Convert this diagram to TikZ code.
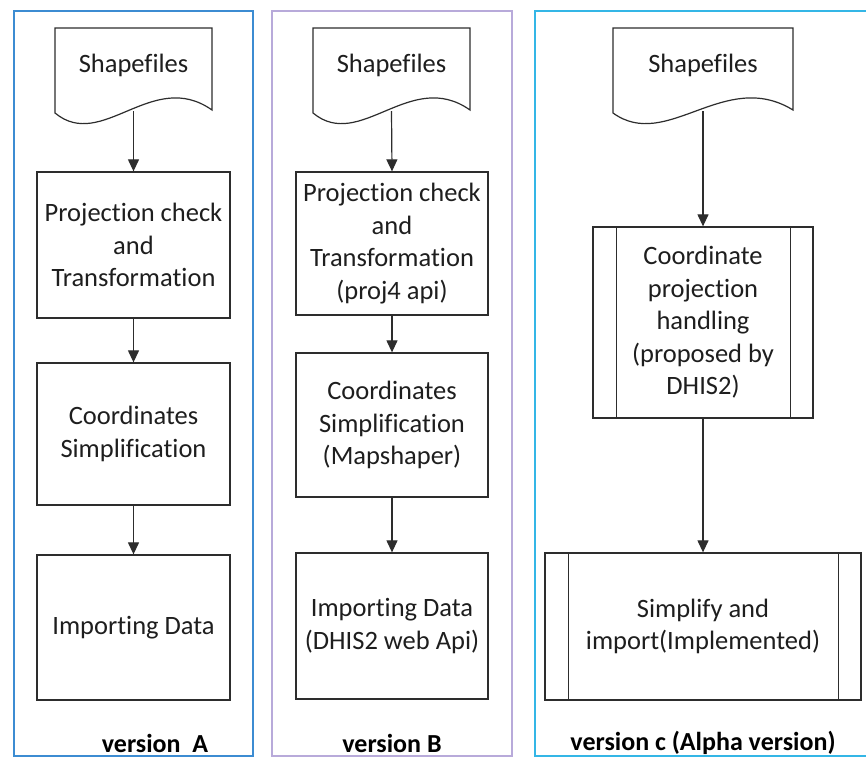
\documentclass[tikz,border=0pt]{standalone}
\usepackage{fontspec}
\setmainfont[Ligatures={NoCommon,NoContextual}]{Carlito}
\usetikzlibrary{arrows.meta}
\definecolor{pa}{RGB}{60,140,210}
\definecolor{pb}{RGB}{184,170,218}
\definecolor{pc}{RGB}{52,182,230}
\definecolor{ln}{RGB}{45,45,45}
\definecolor{tx}{RGB}{30,30,30}
\newcommand\docoutline[2]{%
  \draw[draw=ln, line width=1.2pt, fill=white]
    (#1,113) -- (#1,28) -- (#2,28) -- (#2,110)
    .. controls ({#1+0.62*(#2-#1)},68) and ({#1+0.30*(#2-#1)},152) .. (#1,113) -- cycle;}
\begin{document}
\begin{tikzpicture}[x=1pt,y=-1pt,
  every node/.style={font=\fontsize{26.5}{32.5}\selectfont, text=tx},
  box/.style={draw=ln, line width=1.3pt, fill=white, align=center, inner sep=0pt},
  docn/.style={inner sep=0pt, minimum height=83pt, text height=20pt, text depth=15pt},
  arr/.style={draw=ln, line width=1.2pt, -{Triangle[length=12pt,width=11pt]}},
  side/.style={draw=ln, line width=1.3pt},
  lab/.style={font=\fontsize{26}{30}\selectfont\bfseries, text=black},
  panel/.style={line width=2pt}]
\useasboundingbox (0,0) rectangle (866,758);
\fill[white] (0,0) rectangle (866,758);

% panels
\draw[panel, draw=pa] (14,11) rectangle (253,756);
\draw[panel, draw=pb, line width=1.6pt] (272,11) rectangle (512,756);
\draw[panel, draw=pc] (872,11) -- (535,11) -- (535,756) -- (872,756);

% version A
\docoutline{55}{212}
\node[docn, minimum width=157pt] (da) at (133.5,69.5) {Shapefiles};
\node[box, minimum width=193pt, minimum height=146pt] (a1) at (133.5,245) {Projection check\\and\\Transformation};
\node[box, minimum width=193pt, minimum height=142pt] (a2) at (133.5,434) {Coordinates\\Simplification};
\node[box, minimum width=193pt, minimum height=145pt] (a3) at (133.5,627.5) {Importing Data};
\draw[arr] (da.south) -- (a1.north);
\draw[arr] (a1.south) -- (a2.north);
\draw[arr] (a2.south) -- (a3.north);
\node[lab] (la) at (155,743) {version\ \ A};

% version B
\docoutline{313}{470}
\node[docn, minimum width=157pt] (db) at (391.5,69.5) {Shapefiles};
\node[box, minimum width=192pt, minimum height=143pt] (b1) at (392,243.5) {Projection check\\and\\Transformation\\(proj4 api)};
\node[box, minimum width=192pt, minimum height=144pt] (b2) at (392,425) {Coordinates\\Simplification\\(Mapshaper)};
\node[box, minimum width=192pt, minimum height=146pt] (b3) at (392,626) {Importing Data\\(DHIS2 web Api)};
\draw[arr] (db.south) -- (b1.north);
\draw[arr] (b1.south) -- (b2.north);
\draw[arr] (b2.south) -- (b3.north);
\node[lab] (lb) at (392,743) {version B};

% version C
\docoutline{613}{793}
\node[docn, minimum width=180pt] (dc) at (703,69.5) {Shapefiles};
\node[box, minimum width=220pt, minimum height=191pt] (c1) at (703,322.5) {Coordinate\\projection\\handling\\(proposed by\\DHIS2)};
\draw[side] ([xshift=24pt]c1.north west) -- ([xshift=24pt]c1.south west);
\draw[side] ([xshift=-23pt]c1.north east) -- ([xshift=-23pt]c1.south east);
\node[box, minimum width=316pt, minimum height=147pt] (c2) at (703,626.5) {Simplify and\\import(Implemented)};
\draw[side] ([xshift=24pt]c2.north west) -- ([xshift=24pt]c2.south west);
\draw[side] ([xshift=-23pt]c2.north east) -- ([xshift=-23pt]c2.south east);
\draw[arr] (dc.south) -- (c1.north);
\draw[arr] (c1.south) -- (c2.north);
\node[lab] (lc) at (703,743) {version c (Alpha version)};
\end{tikzpicture}
\end{document}
